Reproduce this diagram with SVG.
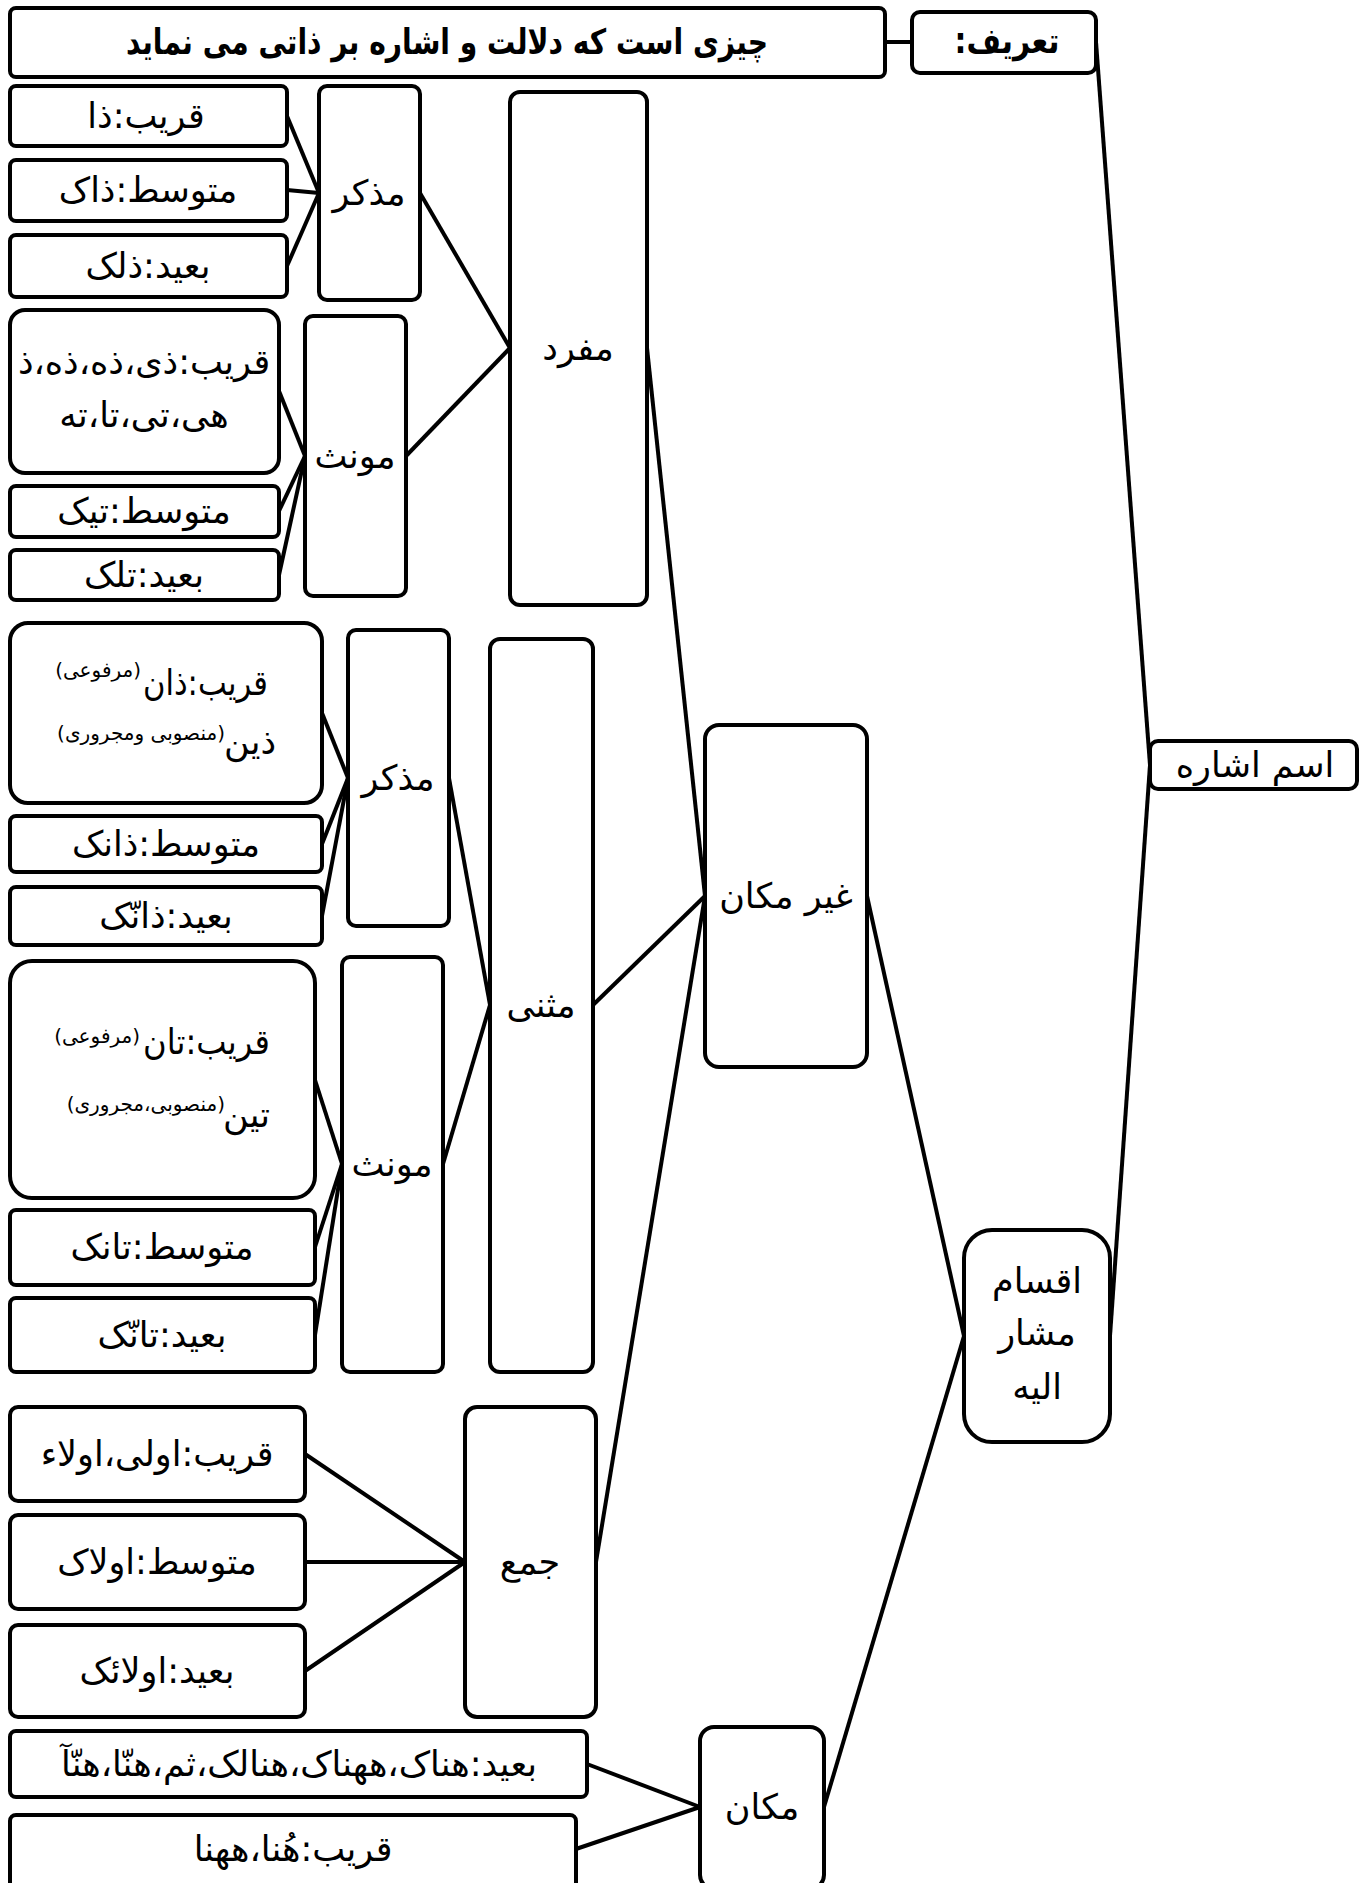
<svg xmlns="http://www.w3.org/2000/svg" width="1370" height="1883" viewBox="0 0 1370 1883">
<style>
.box{fill:#fff;stroke:#000;stroke-width:4}
.t{font-family:'DejaVu Sans',sans-serif;font-size:35px;text-anchor:middle;dominant-baseline:central;fill:#000;direction:rtl}
.r{text-anchor:start}
.s{font-size:20px}
.b{font-weight:bold}
#connectors line{stroke:#000;stroke-width:4;fill:none}
</style>
<rect width="1370" height="1883" fill="#fff"/>
<g id="connectors">
<line x1="885" y1="42" x2="912" y2="42"/>
<line x1="1096" y1="42" x2="1150" y2="765"/>
<line x1="1110" y1="1336" x2="1150" y2="765"/>
<line x1="867" y1="896" x2="964" y2="1336"/>
<line x1="824" y1="1807" x2="964" y2="1336"/>
<line x1="647" y1="348" x2="705" y2="896"/>
<line x1="593" y1="1005" x2="705" y2="896"/>
<line x1="596" y1="1562" x2="705" y2="896"/>
<line x1="420" y1="193" x2="510" y2="348"/>
<line x1="406" y1="456" x2="510" y2="348"/>
<line x1="449" y1="778" x2="490" y2="1005"/>
<line x1="443" y1="1164" x2="490" y2="1005"/>
<line x1="287" y1="116" x2="319" y2="193"/>
<line x1="287" y1="190" x2="319" y2="193"/>
<line x1="287" y1="266" x2="319" y2="193"/>
<line x1="279" y1="391" x2="305" y2="456"/>
<line x1="279" y1="511" x2="305" y2="456"/>
<line x1="279" y1="575" x2="305" y2="456"/>
<line x1="322" y1="713" x2="348" y2="778"/>
<line x1="322" y1="844" x2="348" y2="778"/>
<line x1="322" y1="916" x2="348" y2="778"/>
<line x1="315" y1="1080" x2="342" y2="1164"/>
<line x1="315" y1="1247" x2="342" y2="1164"/>
<line x1="315" y1="1335" x2="342" y2="1164"/>
<line x1="305" y1="1454" x2="465" y2="1562"/>
<line x1="305" y1="1562" x2="465" y2="1562"/>
<line x1="305" y1="1671" x2="465" y2="1562"/>
<line x1="587" y1="1764" x2="700" y2="1807"/>
<line x1="576" y1="1849" x2="700" y2="1807"/>
</g>
<g id="n-def"><rect class="box" x="10" y="8" width="875" height="69" rx="6"/><text class="t b" x="447" y="42" font-size="37" textLength="642" lengthAdjust="spacingAndGlyphs">چیزی است که دلالت و اشاره بر ذاتی می نماید</text></g>
<g id="n-tarif"><rect class="box" x="912" y="12" width="184" height="61" rx="8"/><text class="t b" x="1007" y="41" font-size="37" textLength="105" lengthAdjust="spacingAndGlyphs">تعریف:</text></g>
<g id="n-esm"><rect class="box" x="1150" y="741" width="207" height="48" rx="8"/><text class="t" x="1255" y="765">اسم اشاره</text></g>
<g id="n-aqsam"><rect class="box" x="964" y="1230" width="146" height="212" rx="28"/><text class="t" x="1037" y="1281">اقسام</text><text class="t" x="1037" y="1333">مشار</text><text class="t" x="1037" y="1387">الیه</text></g>
<g id="n-gheyr"><rect class="box" x="705" y="725" width="162" height="342" rx="14"/><text class="t" x="786" y="896">غیر مکان</text></g>
<g id="n-makan"><rect class="box" x="700" y="1727" width="124" height="162" rx="14"/><text class="t" x="762" y="1807">مکان</text></g>
<g id="n-mofrad"><rect class="box" x="510" y="92" width="137" height="513" rx="10"/><text class="t" x="578" y="348">مفرد</text></g>
<g id="n-mothanna"><rect class="box" x="490" y="639" width="103" height="733" rx="10"/><text class="t" x="541" y="1005">مثنی</text></g>
<g id="n-jam"><rect class="box" x="465" y="1407" width="131" height="310" rx="12"/><text class="t" x="530" y="1562">جمع</text></g>
<g id="n-mozakkar1"><rect class="box" x="319" y="86" width="101" height="214" rx="8"/><text class="t" x="369" y="193">مذکر</text></g>
<g id="n-moannas1"><rect class="box" x="305" y="316" width="101" height="280" rx="8"/><text class="t" x="355" y="456">مونث</text></g>
<g id="n-mozakkar2"><rect class="box" x="348" y="630" width="101" height="296" rx="8"/><text class="t" x="398" y="778">مذکر</text></g>
<g id="n-moannas2"><rect class="box" x="342" y="957" width="101" height="415" rx="8"/><text class="t" x="392" y="1164">مونث</text></g>
<g id="n-qarib-za"><rect class="box" x="10" y="86" width="277" height="60" rx="6"/><text class="t" x="146" y="116">قریب:ذا</text></g>
<g id="n-motavaset-zak"><rect class="box" x="10" y="160" width="277" height="61" rx="6"/><text class="t" x="148" y="190">متوسط:ذاک</text></g>
<g id="n-baeid-zalek"><rect class="box" x="10" y="235" width="277" height="62" rx="6"/><text class="t" x="148" y="266">بعید:ذلک</text></g>
<g id="n-qarib-zi"><rect class="box" x="10" y="310" width="269" height="163" rx="15"/><text class="t" x="144" y="362">قریب:ذی،ذه،ذه،ذ</text><text class="t" x="144" y="415">هی،تی،تا،ته</text></g>
<g id="n-motavaset-tik"><rect class="box" x="10" y="486" width="269" height="51" rx="6"/><text class="t" x="144" y="511">متوسط:تیک</text></g>
<g id="n-baeid-tilk"><rect class="box" x="10" y="550" width="269" height="50" rx="6"/><text class="t" x="144" y="575">بعید:تلک</text></g>
<g id="n-qarib-zan"><rect class="box" x="10" y="623" width="312" height="180" rx="18"/><text class="t r" x="268" y="683" textLength="125" lengthAdjust="spacingAndGlyphs">قریب:ذان</text><text class="t r s" x="141" y="670" font-size="19">(مرفوعی)</text><text class="t r" x="276" y="742">ذین</text><text class="t r s" x="225" y="733" font-size="19">(منصوبی ومجروری)</text></g>
<g id="n-motavaset-zanek"><rect class="box" x="10" y="816" width="312" height="56" rx="6"/><text class="t" x="166" y="844">متوسط:ذانک</text></g>
<g id="n-baeid-zannek"><rect class="box" x="10" y="887" width="312" height="58" rx="6"/><text class="t" x="166" y="916">بعید:ذانّک</text></g>
<g id="n-qarib-tan"><rect class="box" x="10" y="961" width="305" height="237" rx="22"/><text class="t r" x="270" y="1042" textLength="127" lengthAdjust="spacingAndGlyphs">قریب:تان</text><text class="t r s" x="140" y="1036">(مرفوعی)</text><text class="t r" x="270" y="1115">تین</text><text class="t r s" x="225" y="1104">(منصوبی،مجروری)</text></g>
<g id="n-motavaset-tanek"><rect class="box" x="10" y="1210" width="305" height="75" rx="6"/><text class="t" x="162" y="1247">متوسط:تانک</text></g>
<g id="n-baeid-tannek"><rect class="box" x="10" y="1298" width="305" height="74" rx="6"/><text class="t" x="162" y="1335">بعید:تانّک</text></g>
<g id="n-qarib-ula"><rect class="box" x="10" y="1407" width="295" height="94" rx="8"/><text class="t" x="157" y="1454">قریب:اولی،اولاء</text></g>
<g id="n-motavaset-ulak"><rect class="box" x="10" y="1515" width="295" height="94" rx="8"/><text class="t" x="157" y="1562">متوسط:اولاک</text></g>
<g id="n-baeid-ulaek"><rect class="box" x="10" y="1625" width="295" height="92" rx="8"/><text class="t" x="157" y="1671">بعید:اولائک</text></g>
<g id="n-baeid-honak"><rect class="box" x="10" y="1731" width="577" height="66" rx="6"/><text class="t" x="299" y="1764">بعید:هناک،ههناک،هنالک،ثم،هنّا،هنّآ</text></g>
<g id="n-qarib-hona"><rect class="box" x="10" y="1815" width="566" height="74" rx="6"/><text class="t" x="293" y="1849">قریب:هُنا،ههنا</text></g>
</svg>
